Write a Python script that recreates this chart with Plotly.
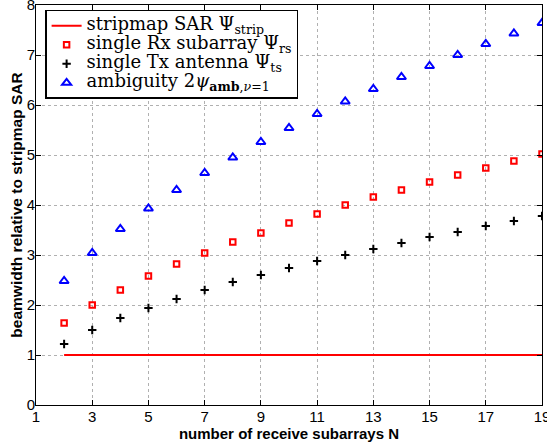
import plotly.graph_objects as go

N = list(range(2, 20))
strip = [1.0] * len(N)
rx_sub = [1.64, 2.0, 2.3, 2.58, 2.82, 3.04, 3.26, 3.44, 3.64, 3.82, 4.0, 4.16, 4.3, 4.46, 4.6, 4.74, 4.88, 5.02]
tx_ant = [1.22, 1.5, 1.74, 1.94, 2.12, 2.3, 2.46, 2.6, 2.74, 2.88, 3.0, 3.12, 3.24, 3.36, 3.46, 3.58, 3.68, 3.78]
amb = [2.48, 3.04, 3.52, 3.93, 4.3, 4.64, 4.95, 5.26, 5.54, 5.82, 6.07, 6.32, 6.56, 6.78, 7.0, 7.22, 7.43, 7.64]
x_ticks = list(range(1, 20, 2))
y_ticks = list(range(0, 9))

LS = '<span style="font-size:18px">'
LE = '</span>'

fig = go.Figure()
fig.add_trace(go.Scatter(x=N, y=strip, mode="lines", line=dict(color="#ff0000", width=2),
                         name=LS + "stripmap SAR Ψ<sub>strip</sub>" + LE))
fig.add_trace(go.Scatter(x=N, y=rx_sub, mode="markers",
                         marker=dict(symbol="square-open", size=5.5, color="#ff0000", line=dict(width=2, color="#ff0000")),
                         name=LS + "single Rx subarray Ψ<sub>rs</sub>" + LE))
fig.add_trace(go.Scatter(x=N, y=tx_ant, mode="markers",
                         marker=dict(symbol="cross-thin", size=6, color="black", line=dict(width=2, color="black")),
                         name=LS + "single Tx antenna Ψ<sub>ts</sub>" + LE))
fig.add_trace(go.Scatter(x=N, y=amb, mode="markers",
                         marker=dict(symbol="triangle-up-open", size=8, color="#0000ff", line=dict(width=2, color="#0000ff")),
                         name=LS + "ambiguity 2<i>ψ</i><sub><b>amb</b>,<i>ν</i>=1</sub>" + LE))

axis_common = dict(showline=True, linecolor="black", linewidth=1, mirror="allticks",
                   ticks="inside", ticklen=5, tickcolor="black",
                   showgrid=True, gridcolor="#b0b0b0", griddash="dot", gridwidth=1,
                   zeroline=False, ticklabeloverflow="allow", automargin=False,
                   tickfont=dict(family="Liberation Sans, Arial", size=15, color="black"))

fig.update_xaxes(range=[1, 19], tickvals=x_ticks, ticklabelstandoff=-2, **axis_common,
                 title=dict(text="<b>number of receive subarrays N</b>", standoff=0,
                            font=dict(family="Liberation Sans, Arial", size=15, color="black")))
fig.update_yaxes(range=[0, 8], tickvals=y_ticks, ticklabelstandoff=-3, **axis_common,
                 title=dict(text="<b>beamwidth relative to stripmap SAR</b>", standoff=0,
                            font=dict(family="Liberation Sans, Arial", size=15.5, color="black")))

fig.update_layout(width=547, height=445, margin=dict(l=36, r=5, t=5, b=40),
                  plot_bgcolor="white", paper_bgcolor="white",
                  legend=dict(x=0.018, y=0.988, xanchor="left", yanchor="top",
                              bgcolor="white", bordercolor="black", borderwidth=1.5,
                              font=dict(family="DejaVu Serif", size=12, color="black"),
                              tracegroupgap=0, itemwidth=30),
                  showlegend=True)

fig.write_html("out.html")
